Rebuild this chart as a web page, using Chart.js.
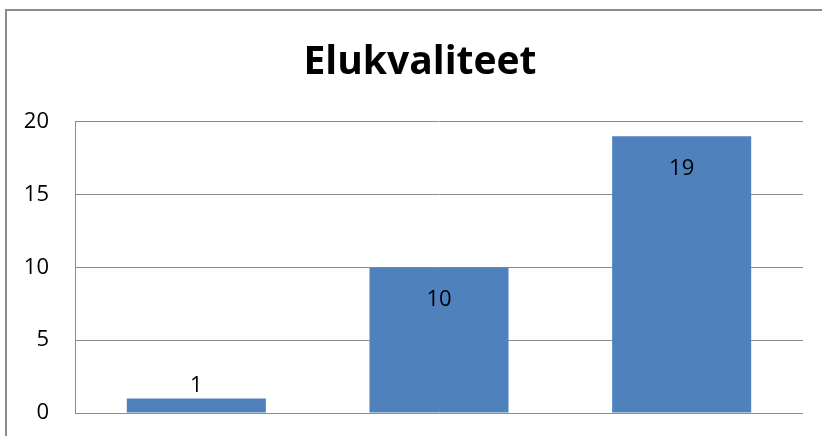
<!DOCTYPE html>
<html>
<head>
<meta charset="utf-8">
<script src="https://cdn.jsdelivr.net/npm/chart.js@4.4.1/dist/chart.umd.min.js"></script>
<style>
  html, body { margin: 0; padding: 0; background: #ffffff; overflow: hidden; }
  #wrap { width: 822px; height: 436px; position: relative; }
</style>
</head>
<body>
<div id="wrap"><canvas id="c" width="822" height="436"></canvas></div>
<script>
const titleText = "Elukvaliteet";
const categories = ["", "", ""];
const values = [1, 10, 19];
const yTicks = [0, 5, 10, 15, 20];

const FONT = "'Open Sans', 'Liberation Sans', sans-serif";

const frame = {
  id: 'frame',
  beforeDraw(chart) {
    const ctx = chart.ctx;
    ctx.save();
    ctx.fillStyle = '#ffffff';
    ctx.fillRect(0, 0, chart.width, chart.height);
    ctx.strokeStyle = '#8c8c8c';
    ctx.lineWidth = 2;
    ctx.beginPath();
    ctx.moveTo(6, chart.height);
    ctx.lineTo(6, 10);
    ctx.lineTo(chart.width, 10);
    ctx.stroke();
    ctx.restore();
  }
};

const barLabels = {
  id: 'barLabels',
  afterDatasetsDraw(chart) {
    const ctx = chart.ctx;
    const meta = chart.getDatasetMeta(0);
    ctx.save();
    ctx.font = "22px " + FONT;
    ctx.fillStyle = '#000000';
    ctx.textAlign = 'center';
    ctx.textBaseline = 'middle';
    meta.data.forEach((bar, i) => {
      const v = chart.data.datasets[0].data[i];
      const h = bar.base - bar.y;
      const y = h > 50 ? bar.y + 32 : bar.y - 13;
      ctx.fillText(String(v), bar.x, y);
    });
    ctx.restore();
  }
};

new Chart(document.getElementById('c'), {
  type: 'bar',
  data: {
    labels: categories,
    datasets: [{
      data: values,
      backgroundColor: '#4f81bd',
      borderWidth: 0,
      barPercentage: 0.573,
      categoryPercentage: 1.0,
      yAxisID: 'y'
    }]
  },
  options: {
    responsive: false,
    animation: false,
    devicePixelRatio: 1,
    layout: { padding: { left: 18, top: 0, right: 0, bottom: 23 } },
    plugins: {
      legend: { display: false },
      tooltip: { enabled: false },
      title: {
        display: true,
        text: titleText,
        color: '#000000',
        font: { family: FONT, size: 39, weight: 'bold' },
        lineHeight: 1.2,
        padding: { top: 39, bottom: 36 }
      }
    },
    scales: {
      x: { display: false },
      y: {
        position: 'left',
        min: 0,
        max: 20,
        afterBuildTicks(scale) { scale.ticks = yTicks.map(v => ({ value: v })); },
        afterFit(scale) { scale.width = 57; scale.paddingTop = 0; scale.paddingBottom = 0; },
        border: { display: true, color: '#8c8c8c', width: 1 },
        grid: { color: '#8c8c8c', lineWidth: 1, drawTicks: false },
        ticks: {
          padding: 26,
          color: '#000000',
          font: { family: FONT, size: 22 }
        }
      },
      spacer: {
        type: 'linear',
        position: 'right',
        display: true,
        min: 0,
        max: 20,
        grid: { display: false, drawTicks: false },
        border: { display: false },
        ticks: { display: false },
        afterFit(scale) { scale.width = 19; scale.paddingTop = 0; scale.paddingBottom = 0; }
      }
    }
  },
  plugins: [frame, barLabels]
});
</script>
</body>
</html>
